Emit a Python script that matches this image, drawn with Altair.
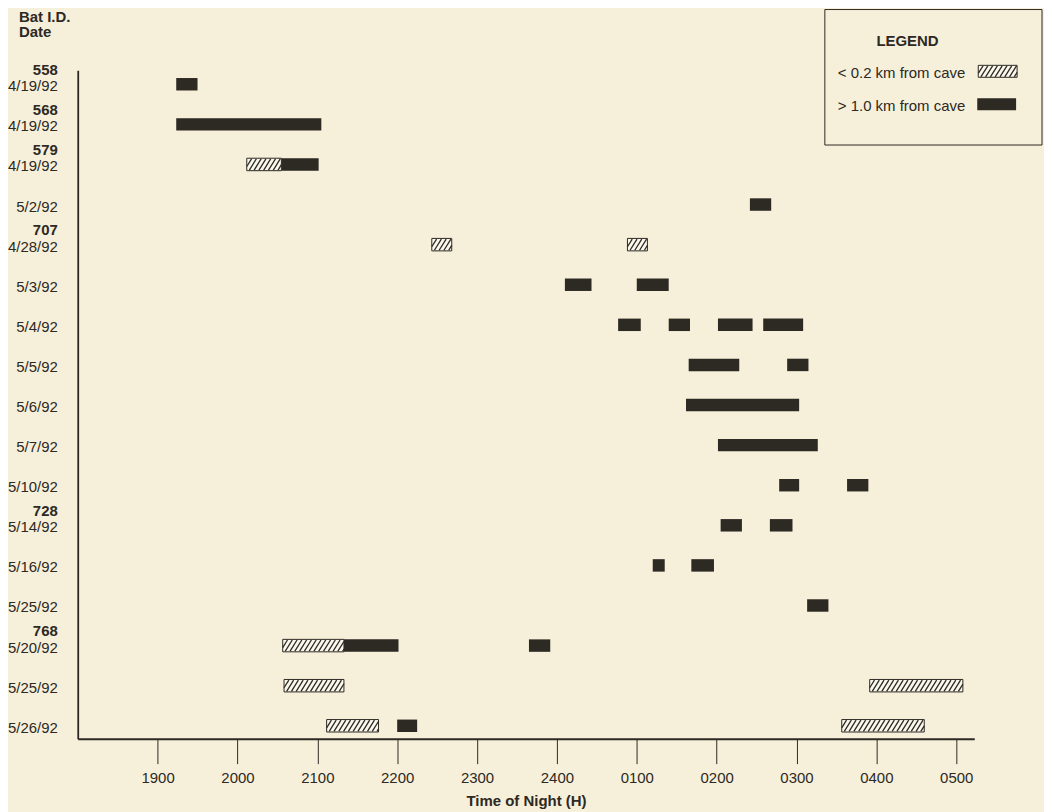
import altair as alt
import pandas as pd

# ---------------- data ----------------
row_ids = ["558", "568", "579", "", "707", "", "", "", "", "", "", "728", "", "", "768", "", ""]
row_dates = ["4/19/92", "4/19/92", "4/19/92", "5/2/92", "4/28/92", "5/3/92", "5/4/92", "5/5/92",
             "5/6/92", "5/7/92", "5/10/92", "5/14/92", "5/16/92", "5/25/92", "5/20/92", "5/25/92", "5/26/92"]

seg_row = [0, 1, 2, 2, 3, 4, 4, 5, 5, 6, 6, 6, 6, 7, 7, 8, 9, 10, 10, 11, 11, 12, 12, 13,
           14, 14, 14, 15, 15, 16, 16, 16]
seg_start = ["19:14", "19:14", "20:07", "20:33", "02:25", "22:26", "00:53", "00:06", "01:00",
             "00:46", "01:24", "02:01", "02:35", "01:39", "02:53", "01:37", "02:01", "02:47", "03:38",
             "02:03", "02:40", "01:12", "01:41", "03:08",
             "20:34", "21:20", "23:39", "20:35", "03:55", "21:07", "22:00", "03:34"]
seg_end = ["19:30", "21:03", "20:33", "21:01", "02:41", "22:41", "01:08", "00:26", "01:24",
           "01:03", "01:40", "02:27", "03:05", "02:17", "03:09", "03:02", "03:16", "03:02", "03:54",
           "02:19", "02:57", "01:21", "01:58", "03:24",
           "21:20", "22:01", "23:55", "21:20", "05:05", "21:46", "22:15", "04:36"]
seg_kind = ["far", "far", "near", "far", "far", "near", "near", "far", "far",
            "far", "far", "far", "far", "far", "far", "far", "far", "far", "far",
            "far", "far", "far", "far", "far",
            "near", "far", "far", "near", "near", "near", "far", "near"]

tick_hours = [1, 2, 3, 4, 5, 6, 7, 8, 9, 10, 11]
tick_labels = ["1900", "2000", "2100", "2200", "2300", "2400", "0100", "0200", "0300", "0400", "0500"]

legend_labels = ["< 0.2 km from cave", "> 1.0 km from cave"]

# ---------------- style ----------------
BG = "#f6f0db"
INK = "#2d2923"
LIGHT = "#fbf8ee"
FONT = "Liberation Sans"

W, H = 900, 671
PX_PER_HOUR = 80.17
X_DOMAIN = [0, W / PX_PER_HOUR]
ROW_PX = 40.25
Y0 = -14 / ROW_PX
Y_DOMAIN = [Y0, Y0 + H / ROW_PX]
HALF = 6.25 / ROW_PX          # half bar thickness in row units
HATCH_SP = 4.8                # px between hatch lines
HATCH_SL = 7.0                # px horizontal run of each hatch line


def hours_after_1800(t):
    h, m = (int(v) for v in t.split(":"))
    v = h + m / 60 - 18
    if v < 0:
        v += 24
    return v


def hatch_lines(x_start, x_end, y_bottom, y_top, sp, sl):
    out = []
    x0 = x_start - sl
    while x0 < x_end:
        tlo = max(0.0, (x_start - x0) / sl)
        thi = min(1.0, (x_end - x0) / sl)
        if thi > tlo:
            out.append(dict(hx=x0 + tlo * sl, hx2=x0 + thi * sl,
                            hy=y_bottom + tlo * (y_top - y_bottom),
                            hy2=y_bottom + thi * (y_top - y_bottom)))
        x0 += sp
    return out


segs = pd.DataFrame({
    "row": seg_row,
    "start": [hours_after_1800(t) for t in seg_start],
    "end": [hours_after_1800(t) for t in seg_end],
    "kind": seg_kind,
})
segs["y1"] = segs["row"] - HALF
segs["y2"] = segs["row"] + HALF

hatch = []
for _, r in segs[segs["kind"] == "near"].iterrows():
    hatch += hatch_lines(r["start"], r["end"], r["row"] + HALF * 0.9, r["row"] - HALF * 0.9,
                         HATCH_SP / PX_PER_HOUR, HATCH_SL / PX_PER_HOUR)
hatch_df = pd.DataFrame(hatch)

rows = pd.DataFrame({"row": list(range(len(row_dates))), "id": row_ids, "date": row_dates})

xscale = alt.Scale(domain=X_DOMAIN, nice=False, zero=False)
yscale = alt.Scale(domain=Y_DOMAIN, nice=False, zero=False, reverse=True)

label_expr = "[" + ",".join(f"'{t}'" for t in tick_labels) + "][datum.value - 1]"

x_axis = alt.Axis(values=tick_hours, labelExpr=label_expr, grid=False,
                  tickSize=25, tickColor=INK, tickWidth=1,
                  domainColor=INK, domainWidth=1.8,
                  labelFont=FONT, labelFontSize=15, labelColor=INK, labelPadding=7,
                  labelFlush=False,
                  title="Time of Night (H)", titleFont=FONT, titleFontSize=15,
                  titleFontWeight="bold", titleColor=INK, titleBaseline="alphabetic",
                  titleY=67)
y_axis = alt.Axis(ticks=False, labels=False, title=None, grid=False,
                  domainColor=INK, domainWidth=1.8)

far = alt.Chart(segs).transform_filter(alt.datum.kind == "far").mark_rect(color=INK).encode(
    x=alt.X("start:Q", scale=xscale, axis=x_axis),
    x2="end:Q",
    y=alt.Y("y1:Q", scale=yscale, axis=y_axis),
    y2="y2:Q",
)
near = alt.Chart(segs).transform_filter(alt.datum.kind == "near").mark_rect(
    fill=LIGHT, stroke=INK, strokeWidth=1).encode(
    x=alt.X("start:Q", scale=xscale, axis=x_axis),
    x2="end:Q",
    y=alt.Y("y1:Q", scale=yscale, axis=y_axis),
    y2="y2:Q",
)
hatch_layer = alt.Chart(hatch_df).mark_rule(color=INK, strokeWidth=1.3).encode(
    x=alt.X("hx:Q", scale=xscale, axis=x_axis),
    x2="hx2:Q",
    y=alt.Y("hy:Q", scale=yscale, axis=y_axis),
    y2="hy2:Q",
)

date_text = alt.Chart(rows).mark_text(align="right", baseline="middle", dy=2,
                                      font=FONT, fontSize=15, color=INK).encode(
    x=alt.value(-20),
    y=alt.Y("row:Q", scale=yscale, axis=y_axis),
    text="date:N",
)
id_text = alt.Chart(rows).transform_filter(alt.datum.id != "").mark_text(
    align="right", baseline="middle", dy=-14.5, font=FONT, fontSize=15,
    fontWeight="bold", color=INK).encode(
    x=alt.value(-20),
    y=alt.Y("row:Q", scale=yscale, axis=y_axis),
    text="id:N",
)

one = pd.DataFrame({"a": [0]})

header = alt.Chart(pd.DataFrame({"t": ["Bat I.D.", "Date"], "py": [-49, -33]})).mark_text(
    align="left", baseline="alphabetic", font=FONT, fontSize=15, fontWeight="bold", color=INK).encode(
    x=alt.value(-59),
    y=alt.Y("py:Q", scale=None),
    text="t:N",
)

# ---------- legend (drawn manually) ----------
legend_box = alt.Chart(one).mark_rect(fillOpacity=0, stroke=INK, strokeWidth=1).encode(
    x=alt.value(750), x2=alt.value(968), y=alt.value(-61), y2=alt.value(75))
legend_title = alt.Chart(one).mark_text(align="center", baseline="alphabetic", font=FONT,
                                        fontSize=15, fontWeight="bold", color=INK).encode(
    x=alt.value(833), y=alt.value(-24), text=alt.value("LEGEND"))
legend_text = alt.Chart(pd.DataFrame({"t": legend_labels, "py": [8, 41]})).mark_text(
    align="left", baseline="alphabetic", font=FONT, fontSize=15, color=INK).encode(
    x=alt.value(763), y=alt.Y("py:Q", scale=None), text="t:N")
legend_near = alt.Chart(one).mark_rect(fill=LIGHT, stroke=INK, strokeWidth=1).encode(
    x=alt.value(904), x2=alt.value(943), y=alt.value(-5), y2=alt.value(7))
legend_hatch = alt.Chart(pd.DataFrame(hatch_lines(904, 943, 6.5, -4.5, HATCH_SP, HATCH_SL))).mark_rule(
    color=INK, strokeWidth=1.3).encode(
    x=alt.X("hx:Q", scale=None), x2="hx2:Q", y=alt.Y("hy:Q", scale=None), y2="hy2:Q")
legend_far = alt.Chart(one).mark_rect(color=INK).encode(
    x=alt.value(903), x2=alt.value(942), y=alt.value(28), y2=alt.value(40))

chart = alt.layer(
    far, near, hatch_layer, date_text, id_text, header,
    legend_box, legend_title, legend_text, legend_near, legend_hatch, legend_far,
).properties(
    width=W, height=H,
    background=BG,
    padding={"left": 70, "top": 61, "right": 70, "bottom": 72},
    autosize=alt.AutoSizeParams(type="none"),
).configure_view(stroke=None)

chart.save("out.html", embed_options={"renderer": "svg", "actions": False})
